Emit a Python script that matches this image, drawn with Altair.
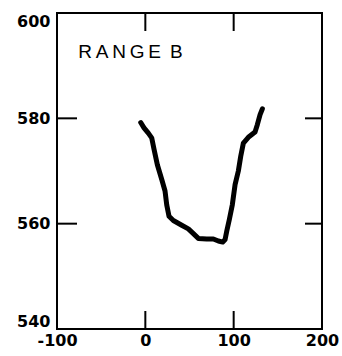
import altair as alt
import pandas as pd

# Profile
xs = [-5.2, -1.5, 3.4, 7.2, 9.9, 13.6, 18.6, 22.3, 24.2, 26.8, 31.7, 41.2, 48.7, 54.4,
      60.0, 69.5, 77.0, 82.7, 87.6, 90.3, 92.2, 95.1, 98.5, 101.6, 105.3, 108.0, 111.0,
      116.6, 124.2, 126.8, 129.9, 132.5]
ys = [579.2, 578.2, 577.2, 576.3, 574.1, 571.2, 568.4, 566.2, 563.6, 561.4, 560.6, 559.7,
      559.0, 558.1, 557.2, 557.1, 557.1, 556.7, 556.5, 557.0, 558.6, 560.8, 563.6, 567.4,
      570.0, 572.8, 575.3, 576.4, 577.4, 578.8, 580.7, 581.8]

x_ticks = [-100, 0, 100, 200]
y_ticks = [540, 560, 580, 600]
x_inner = [0, 100]
y_inner = [560, 580]
label_text = ["R\u2009A\u2009N\u2009G\u2009E\u2009 B"]
label_x = [-76]
label_y = [592.6]

W, H = 265, 316

df = pd.DataFrame({"x": xs, "y": ys, "order": list(range(len(xs)))})

xscale = alt.Scale(domain=[-100, 200], nice=False, zero=False)
yscale = alt.Scale(domain=[540, 600], nice=False, zero=False)

xaxis = alt.Axis(values=x_ticks, ticks=False, domain=False, grid=False, title=None,
                 labelFont="DejaVu Sans", labelFontWeight="bold", labelFontSize=16,
                 labelColor="black", labelPadding=3, labelFlush=False,
                 labelExpr="replace(datum.label, '\u2212', '-')")
yaxis = alt.Axis(values=y_ticks, ticks=False, domain=False, grid=False, title=None,
                 labelFont="DejaVu Sans", labelFontWeight="bold", labelFontSize=16,
                 labelColor="black", labelPadding=7, labelFlush=True)

line = alt.Chart(df).mark_line(color="black", strokeWidth=5, strokeCap="round",
                               strokeJoin="round").encode(
    x=alt.X("x:Q", scale=xscale, axis=xaxis),
    y=alt.Y("y:Q", scale=yscale, axis=yaxis),
    order="order:Q",
)

xt = pd.DataFrame({"x": x_inner})
yt = pd.DataFrame({"y": y_inner})

bottom_ticks = alt.Chart(xt).mark_rule(color="black", strokeWidth=2).encode(
    x=alt.X("x:Q", scale=xscale), y=alt.value(H), y2=alt.value(H - 18))
top_ticks = alt.Chart(xt).mark_rule(color="black", strokeWidth=2).encode(
    x=alt.X("x:Q", scale=xscale), y=alt.value(0), y2=alt.value(18))
left_ticks = alt.Chart(yt).mark_rule(color="black", strokeWidth=2).encode(
    y=alt.Y("y:Q", scale=yscale), x=alt.value(0), x2=alt.value(20))
right_ticks = alt.Chart(yt).mark_rule(color="black", strokeWidth=2).encode(
    y=alt.Y("y:Q", scale=yscale), x=alt.value(W), x2=alt.value(W - 17))

tdf = pd.DataFrame({"x": label_x, "y": label_y, "t": label_text})
text = alt.Chart(tdf).mark_text(align="left", baseline="middle", font="Liberation Sans",
                                fontSize=19, color="black").encode(
    x=alt.X("x:Q", scale=xscale), y=alt.Y("y:Q", scale=yscale), text="t:N")

chart = alt.layer(line, bottom_ticks, top_ticks, left_ticks, right_ticks, text).properties(
    width=W, height=H,
    padding={"left": 57, "top": 13, "right": 20, "bottom": 27},
    autosize=alt.AutoSizeParams(type="none"),
    background="white",
).configure_view(stroke="black", strokeWidth=2)

chart.save("out.html", embed_options={"renderer": "svg", "actions": False})
